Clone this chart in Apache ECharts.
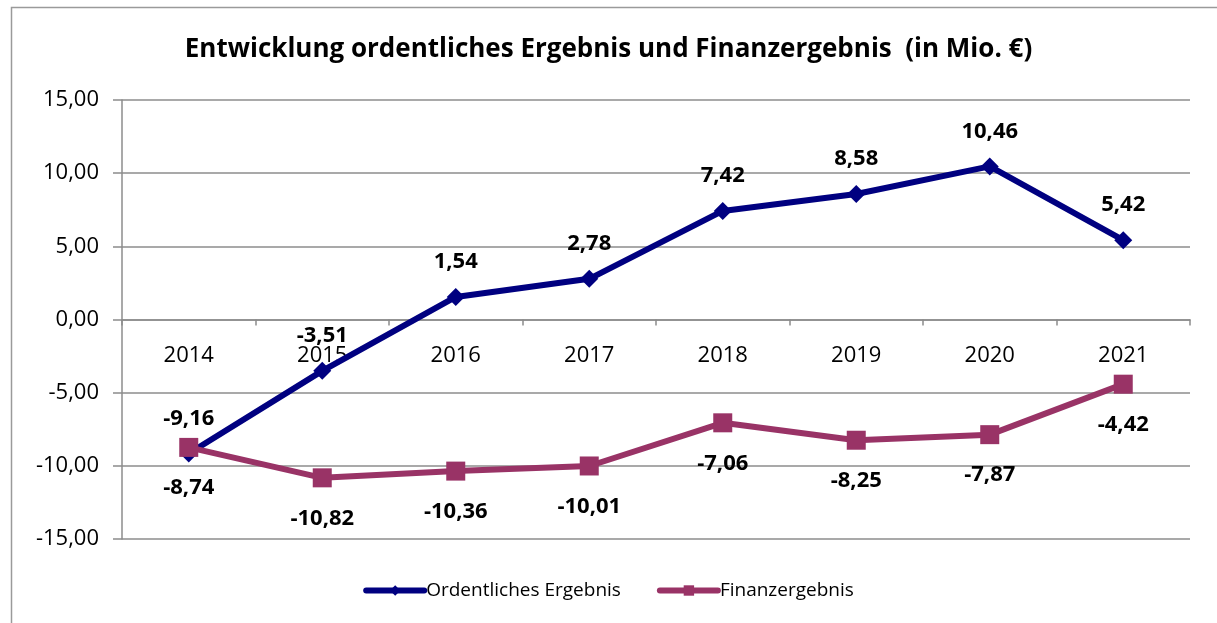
<!DOCTYPE html>
<html><head><meta charset="utf-8">
<script src="https://cdn.jsdelivr.net/npm/echarts@6/dist/echarts.min.js"></script>
<style>html,body{margin:0;padding:0;background:#fff}#c{width:1217px;height:623px}</style>
</head><body><div id="c"></div>
<script>
const categories = ['2014','2015','2016','2017','2018','2019','2020','2021'];
const ordentlichesErgebnis = [-9.16, -3.51, 1.54, 2.78, 7.42, 8.58, 10.46, 5.42];
const finanzergebnis = [-8.74, -10.82, -10.36, -10.01, -7.06, -8.25, -7.87, -4.42];
const yTicks = [-15, -10, -5, 0, 5, 10, 15];
const titleText = 'Entwicklung ordentliches Ergebnis und Finanzergebnis  (in Mio. €)';
const seriesNames = ['Ordentliches Ergebnis', 'Finanzergebnis'];

const FONT = '"Open Sans", Lato, sans-serif';
const GRID = {left: 122, right: 27, top: 100, bottom: 84};
const H = 623;
const gridH = H - GRID.top - GRID.bottom;
const yMin = yTicks[0], yMax = yTicks[yTicks.length - 1];
// move the category axis up to the zero line
const zeroOffset = -gridH * (0 - yMin) / (yMax - yMin);
const fmt = v => v.toFixed(2).replace('.', ',');
const AX = '#8c8c8c';
const chart = echarts.init(document.getElementById('c'), null, {renderer: 'canvas'});
chart.setOption({
  animation: false,
  backgroundColor: '#fff',
  graphic: [{type: 'rect', shape: {x: 11.5, y: 7.5, width: 1220, height: 630},
    style: {fill: 'none', stroke: '#9a9a9a', lineWidth: 1.5}, silent: true}],
  title: {text: titleText, left: 'center', top: 32,
    textStyle: {fontFamily: FONT, fontSize: 26, fontWeight: 'bold', color: '#000'}},
  grid: GRID,
  legend: {bottom: 18, left: 'center', itemWidth: 58, itemHeight: 13, itemGap: 36,
    textStyle: {fontFamily: FONT, fontSize: 19, color: '#000', padding: [0, 0, 0, -3]},
    lineStyle: {width: 6, cap: 'round'},
    data: seriesNames},
  xAxis: {type: 'category', data: categories, boundaryGap: true, offset: zeroOffset,
    axisLine: {onZero: false, lineStyle: {color: AX, width: 1.5}},
    axisTick: {show: true, length: 6, lineStyle: {color: AX, width: 1.5}},
    axisLabel: {margin: 25, fontFamily: FONT, fontSize: 22, color: '#000'}},
  yAxis: {type: 'value', min: yMin, max: yMax, interval: 5,
    axisLine: {show: true, lineStyle: {color: AX, width: 1.5}},
    axisTick: {show: true, length: 9, lineStyle: {color: AX, width: 1.5}},
    splitLine: {show: true, lineStyle: {color: AX, width: 1.5}},
    axisLabel: {margin: 23, fontFamily: FONT, fontSize: 22, color: '#000', formatter: v => fmt(v)}},
  series: [
    {name: seriesNames[0], type: 'line', data: ordentlichesErgebnis,
      symbol: 'diamond', symbolSize: 18, lineStyle: {width: 6, color: '#000080'},
      itemStyle: {color: '#000080'},
      label: {show: true, position: 'top', distance: 15, fontFamily: FONT, fontSize: 22,
        fontWeight: 'bold', color: '#000', formatter: p => fmt(p.value)}},
    {name: seriesNames[1], type: 'line', data: finanzergebnis,
      symbol: 'rect', symbolSize: 19, lineStyle: {width: 6, color: '#993366'},
      itemStyle: {color: '#993366'},
      label: {show: true, position: 'bottom', distance: 20, fontFamily: FONT, fontSize: 22,
        fontWeight: 'bold', color: '#000', formatter: p => fmt(p.value)}}
  ]
});
</script></body></html>
